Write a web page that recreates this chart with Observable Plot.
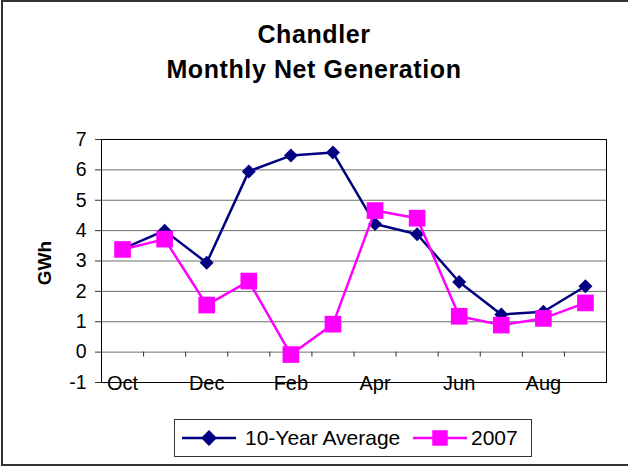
<!DOCTYPE html>
<html><head><meta charset="utf-8">
<script src="https://cdn.jsdelivr.net/npm/d3@7"></script>
<script src="https://cdn.jsdelivr.net/npm/@observablehq/plot@0.6"></script>
<style>
body{margin:0;background:#fff;font-family:"Liberation Sans",Arial,sans-serif;}
#wrap{position:relative;width:628px;height:466px;overflow:hidden;background:#fff;}
#border{position:absolute;left:1px;top:0;width:700px;height:466px;box-sizing:border-box;border:2px solid #333;}
#title{position:absolute;left:0;top:17px;width:628px;text-align:center;font-weight:bold;font-size:25px;letter-spacing:0.6px;line-height:35px;color:#000;}
#chart{position:absolute;left:0;top:110px;}
#ylab{position:absolute;left:45px;top:263px;transform:translate(-50%,-50%) rotate(-90deg);font-weight:bold;font-size:19px;white-space:nowrap;}
#legend{position:absolute;left:174px;top:419px;width:358px;height:38px;box-sizing:border-box;border:1px solid #333;font-size:21px;}
#legend .item{position:absolute;top:0;height:36px;display:flex;align-items:center;}
#legend svg{display:block;}
</style>
</head><body>
<div id="wrap">
<div id="border"></div>
<div id="title">Chandler<br>Monthly Net Generation</div>
<div id="chart"></div>
<div id="ylab">GWh</div>
<div id="legend"></div>
</div>
<script>
const months = ["Oct","Nov","Dec","Jan","Feb","Mar","Apr","May","Jun","Jul","Aug","Sep"];
const avg10 = [3.40, 4.00, 2.94, 5.95, 6.47, 6.57, 4.22, 3.88, 2.31, 1.24, 1.33, 2.17];
const y2007 = [3.38, 3.72, 1.55, 2.34, -0.08, 0.92, 4.66, 4.41, 1.18, 0.89, 1.11, 1.62];
const yTicks = [-1, 0, 1, 2, 3, 4, 5, 6, 7];
const gridValues = [0, 1, 2, 3, 4, 5, 6, 7];
const xLabels = ["Oct","Dec","Feb","Apr","Jun","Aug"];
const seriesNames = ["10-Year Average", "2007"];
const seriesColors = ["#000080", "#FF00FF"];

const idx = m => months.indexOf(m);
const dAvg = months.map((m, i) => ({m, i, v: avg10[i]}));
const d07 = months.map((m, i) => ({m, i, v: y2007[i]}));
const bounds = months.map((m, i) => i + 0.5);

const chart = Plot.plot({
  width: 628,
  height: 290,
  marginLeft: 101,
  marginRight: 22,
  marginTop: 29,
  marginBottom: 18,
  style: {fontFamily: "'Liberation Sans', Arial, sans-serif", background: "transparent", overflow: "visible"},
  x: {type: "linear", domain: [-0.5, months.length - 0.5], axis: null},
  y: {domain: [-1, 7], axis: null},
  marks: [
    Plot.ruleY(gridValues, {stroke: "#6e6e6e", strokeWidth: 1}),
    Plot.ruleX(bounds, {x: d => d, y1: 0, y2: 0, insetBottom: -5, stroke: "#333"}),
    Plot.frame({stroke: "#000", strokeWidth: 1}),
    Plot.axisY({ticks: yTicks, tickSize: 6, tickPadding: 9, tickFormat: d => String(d), fontSize: 19.5, label: null, stroke: "#333", color: "#000"}),
    Plot.text(xLabels, {x: d => idx(d), text: d => d, frameAnchor: "bottom", lineAnchor: "middle", dy: 1, fontSize: 20, fill: "#000"}),
    Plot.line(dAvg, {x: "i", y: "v", stroke: seriesColors[0], strokeWidth: 2.5}),
    Plot.dot(dAvg, {x: "i", y: "v", symbol: "diamond2", r: 6.3, fill: seriesColors[0], stroke: "none"}),
    Plot.line(d07, {x: "i", y: "v", stroke: seriesColors[1], strokeWidth: 2.5}),
    Plot.dot(d07, {x: "i", y: "v", symbol: "square", r: 9.4, fill: seriesColors[1], stroke: "none"})
  ]
});
document.getElementById("chart").appendChild(chart);

// legend
const leg = document.getElementById("legend");
const symbols = [d3.symbol(d3.symbolDiamond2, 160), d3.symbol(d3.symbolSquare, 240)];
const itemLeft = [6, 237];
const textGap = [8, 3];
seriesNames.forEach((name, k) => {
  const item = document.createElement("div");
  item.className = "item";
  item.style.left = itemLeft[k] + "px";
  const s = d3.create("svg").attr("width", 56).attr("height", 30);
  s.append("line").attr("x1", 1).attr("x2", 55).attr("y1", 15).attr("y2", 15)
    .attr("stroke", seriesColors[k]).attr("stroke-width", 2.5);
  s.append("path").attr("d", symbols[k]()).attr("transform", "translate(28,15)").attr("fill", seriesColors[k]);
  item.appendChild(s.node());
  const t = document.createElement("span");
  t.textContent = name;
  t.style.marginLeft = textGap[k] + "px";
  item.appendChild(t);
  leg.appendChild(item);
});
</script>
</body></html>
